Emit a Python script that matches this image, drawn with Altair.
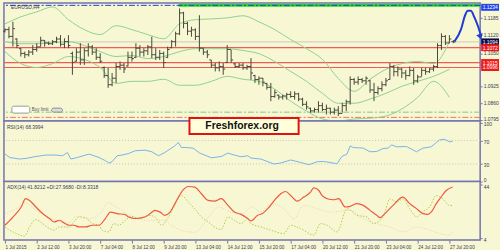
import altair as alt
import pandas as pd

# ---------------- data ----------------
bar_open = [1.1135, 1.1141, 1.1115, 1.1105, 1.1068, 1.1050, 1.1045, 1.1055, 1.1065, 1.1075,
            1.1100, 1.1090, 1.1087, 1.1095, 1.1105, 1.1085, 1.1095, 1.1050, 1.1020, 1.1055,
            1.1025, 1.1060, 1.1075, 1.1055, 1.1035, 1.0995, 1.0965, 1.0930, 1.0955, 1.1000,
            1.1005, 1.1002, 1.1035, 1.1035, 1.1070, 1.1055, 1.1060, 1.1075, 1.1045, 1.1035,
            1.1050, 1.1035, 1.1072, 1.1095, 1.1125, 1.1205, 1.1165, 1.1135, 1.1140, 1.1115,
            1.1070, 1.1055, 1.1025, 1.1005, 1.0995, 1.1000, 1.1015, 1.1065, 1.1010, 1.1000,
            1.1005, 1.0995, 1.1000, 1.0965, 1.0950, 1.0955, 1.0935, 1.0920, 1.0885, 1.0890,
            1.0883, 1.0887, 1.0893, 1.0885, 1.0895, 1.0875, 1.0855, 1.0840, 1.0830, 1.0835,
            1.0850, 1.0835, 1.0840, 1.0825, 1.0833, 1.0820, 1.0850, 1.0865, 1.0950, 1.0940,
            1.0950, 1.0945, 1.0945, 1.0910, 1.0900, 1.0915, 1.0930, 1.0950, 1.1000, 1.0980,
            1.0990, 1.0975, 1.0965, 1.0985, 1.0945, 1.0960, 1.0985, 1.0980, 1.0990, 1.1000,
            1.1080, 1.1115, 1.1090, 1.1095]
bar_high = [1.1146, 1.1152, 1.1171, 1.1108, 1.1070, 1.1057, 1.1063, 1.1082, 1.1089, 1.1114,
            1.1101, 1.1095, 1.1101, 1.1114, 1.1120, 1.1108, 1.1120, 1.1057, 1.1070, 1.1089,
            1.1070, 1.1089, 1.1082, 1.1070, 1.1051, 1.1000, 1.0994, 1.0975, 1.1013, 1.1019,
            1.1013, 1.1057, 1.1057, 1.1089, 1.1082, 1.1070, 1.1082, 1.1114, 1.1070, 1.1063,
            1.1057, 1.1076, 1.1101, 1.1133, 1.1222, 1.1209, 1.1171, 1.1152, 1.1146, 1.1196,
            1.1070, 1.1063, 1.1025, 1.1013, 1.1019, 1.1013, 1.1082, 1.1063, 1.1013, 1.1013,
            1.1013, 1.1006, 1.1032, 1.0968, 1.0962, 1.0956, 1.0937, 1.0937, 1.0911, 1.0892,
            1.0892, 1.0899, 1.0905, 1.0905, 1.0899, 1.0880, 1.0867, 1.0842, 1.0842, 1.0867,
            1.0861, 1.0854, 1.0842, 1.0842, 1.0848, 1.0861, 1.0873, 1.0962, 1.0956, 1.0962,
            1.0956, 1.0962, 1.0949, 1.0937, 1.0924, 1.0943, 1.0956, 1.1013, 1.1006, 1.1000,
            1.0994, 1.0987, 1.1000, 1.0994, 1.0968, 1.0994, 1.0994, 1.0994, 1.1006, 1.1089,
            1.1127, 1.1120, 1.1120, 1.1101]
bar_low = [1.1130, 1.1108, 1.1076, 1.1070, 1.1038, 1.1032, 1.1038, 1.1044, 1.1057, 1.1076,
           1.1076, 1.1082, 1.1082, 1.1089, 1.1076, 1.1070, 1.1070, 1.0968, 1.1019, 1.1006,
           1.1006, 1.1038, 1.1044, 1.1025, 1.1013, 1.0956, 1.0918, 1.0924, 1.0937, 1.0987,
           1.0975, 1.1000, 1.1019, 1.1032, 1.1038, 1.1038, 1.1044, 1.1032, 1.1025, 1.1025,
           1.0994, 1.1032, 1.1070, 1.1076, 1.1120, 1.1146, 1.1120, 1.1114, 1.1101, 1.1057,
           1.1044, 1.1032, 1.0994, 1.0981, 1.0981, 1.0968, 1.1013, 1.1013, 1.0994, 1.0994,
           1.0987, 1.0987, 1.0949, 1.0937, 1.0930, 1.0924, 1.0911, 1.0867, 1.0880, 1.0873,
           1.0873, 1.0873, 1.0880, 1.0873, 1.0867, 1.0848, 1.0835, 1.0823, 1.0823, 1.0823,
           1.0829, 1.0816, 1.0816, 1.0816, 1.0810, 1.0823, 1.0829, 1.0854, 1.0930, 1.0930,
           1.0937, 1.0930, 1.0899, 1.0867, 1.0892, 1.0905, 1.0924, 1.0949, 1.0962, 1.0962,
           1.0956, 1.0949, 1.0962, 1.0930, 1.0937, 1.0962, 1.0968, 1.0975, 1.0981, 1.0994,
           1.1063, 1.1082, 1.1089, 1.1089]
bar_close = [1.1141, 1.1115, 1.1145, 1.1080, 1.1050, 1.1045, 1.1055, 1.1065, 1.1075, 1.1100,
             1.1090, 1.1087, 1.1095, 1.1105, 1.1085, 1.1095, 1.1080, 1.1015, 1.1055, 1.1025,
             1.1060, 1.1075, 1.1055, 1.1035, 1.1020, 1.0965, 1.0930, 1.0955, 1.1000, 1.1005,
             1.0990, 1.1035, 1.1030, 1.1070, 1.1055, 1.1060, 1.1075, 1.1045, 1.1035, 1.1050,
             1.1015, 1.1065, 1.1095, 1.1125, 1.1205, 1.1165, 1.1135, 1.1140, 1.1115, 1.1070,
             1.1055, 1.1045, 1.1005, 1.0995, 1.1000, 1.0990, 1.1065, 1.1025, 1.1000, 1.1005,
             1.0995, 1.1000, 1.0975, 1.0950, 1.0955, 1.0940, 1.0920, 1.0885, 1.0900, 1.0883,
             1.0887, 1.0893, 1.0885, 1.0895, 1.0875, 1.0855, 1.0845, 1.0830, 1.0835, 1.0850,
             1.0835, 1.0840, 1.0825, 1.0833, 1.0820, 1.0850, 1.0865, 1.0950, 1.0940, 1.0950,
             1.0945, 1.0955, 1.0910, 1.0900, 1.0915, 1.0930, 1.0945, 1.1000, 1.0980, 1.0990,
             1.0975, 1.0965, 1.0985, 1.0945, 1.0960, 1.0985, 1.0980, 1.0990, 1.1000, 1.1080,
             1.1115, 1.1090, 1.1105, 1.1094]

band_idx = [0, 4, 8, 12, 16, 20, 24, 28, 32, 36, 40, 44, 48, 52, 56, 60, 64, 68, 72, 76,
            80, 84, 88, 92, 96, 100, 104, 108, 112]
band_upper = [1.1163, 1.1190, 1.1209, 1.1228, 1.1179, 1.1141, 1.1122, 1.1156, 1.1141, 1.1122,
              1.1106, 1.1163, 1.1179, 1.1182, 1.1186, 1.1194, 1.1171, 1.1141, 1.1103, 1.1068,
              1.1027, 1.0954, 1.0905, 1.0951, 1.0989, 1.1011, 1.1019, 1.1011, 1.1095]
band_mid = [1.1095, 1.1087, 1.1087, 1.1091, 1.1095, 1.1080, 1.1057, 1.1038, 1.1042, 1.1030,
            1.1038, 1.1057, 1.1068, 1.1068, 1.1068, 1.1061, 1.1049, 1.1019, 1.0981, 1.0943,
            1.0897, 1.0859, 1.0859, 1.0875, 1.0897, 1.0924, 1.0943, 1.0962, 1.0989]
band_lower = [1.1057, 1.1011, 1.0996, 1.1011, 1.1038, 1.1027, 1.0996, 1.0935, 1.0943, 1.0943,
              1.0951, 1.0928, 1.0928, 1.0943, 1.0962, 1.0951, 1.0943, 1.0913, 1.0867, 1.0829,
              1.0799, 1.0791, 1.0799, 1.0802, 1.0810, 1.0837, 1.0882, 1.0943, 1.0882]

proj_idx = [113.25, 114.9, 116.0, 116.6, 117.4, 118.25, 119.25, 119.8]
proj_price = [1.1095, 1.1141, 1.1198, 1.1213, 1.1213, 1.1190, 1.1152, 1.1125]

rsi_idx = [0, 1.2, 3.7, 5.3, 7.8, 10.3, 12.8, 14.5, 15.75, 16.6, 18.25, 21.2, 23.7, 25.3, 26.2,
           27, 28.25, 29.5, 31.2, 32.8, 35.3, 37, 38.7, 40.3, 42.8, 43.7, 44.5, 45.75, 47.4,
           49.1, 52, 54.5, 56.2, 57.8, 59.5, 61.2, 62, 64.5, 67.8, 69.5, 72, 74.5, 76.6, 78.7,
           80.3, 83.7, 84.9, 86.2, 87, 87.8, 90.3, 92, 93.7, 95.3, 96.6, 97.4, 98.7, 101.2,
           103.7, 105.3, 107.4, 108.7, 109.5, 110.75, 112, 112.8]
rsi_val = [46.8, 41.0, 38.3, 39.4, 42.7, 45.1, 45.1, 43.9, 49.5, 38.3, 41.0, 46.8, 41.0, 35.5, 31.6,
           33.8, 43.9, 45.1, 47.8, 52.4, 53.5, 50.7, 43.9, 49.5, 60.8, 66.4, 57.9, 57.9, 56.9,
           48.5, 40.5, 42.7, 48.5, 45.1, 42.2, 43.9, 40.0, 38.3, 29.9, 31.6, 36.7, 32.6, 28.7, 33.8,
           34.3, 30.4, 42.7, 46.8, 60.8, 57.9, 56.9, 50.7, 51.2, 56.3, 56.9, 62.5, 59.1, 59.6,
           50.7, 56.9, 59.1, 66.4, 70.9, 72.1, 67.6, 68.4]

adx_idx = [0, 2, 4.1, 5.2, 6.2, 7.8, 9.5, 11.2, 12.4, 13.7, 14.9, 16.2, 17.4, 18.7, 20.3, 22, 23.7,
           25.3, 26.6, 28.25, 30.3, 31.2, 32.8, 35.3, 36.6, 37.8, 39.1, 40.3, 41.6, 43.25, 44.9,
           46.2, 47.8, 49.5, 51.2, 52.8, 54.5, 56.2, 57.8, 59.5, 61.2, 62, 63.7, 64.9, 66.6, 68.25,
           69.5, 70.75, 72, 73.7, 75.3, 77, 77.8, 79.1, 79.9, 81.2, 82.8, 84.1, 85.75, 87, 88.7,
           90.3, 92, 93.7, 94.5, 95.75, 97.8, 100.3, 102, 103.7, 105.3, 106.6, 107.4, 108.7,
           109.9, 111.2, 112.8]
adx_val = [13.3, 19.4, 26.9, 33.1, 31.8, 26.9, 22.0, 18.3, 15.7, 17.0, 15.0, 13.3, 13.3, 12.0, 12.0,
           13.3, 13.3, 18.3, 23.1, 22.0, 21.2, 19.4, 18.3, 19.4, 22.0, 24.4, 23.1, 20.7, 23.1, 31.8,
           39.7, 42.2, 41.7, 36.8, 31.8, 31.3, 33.1, 28.1, 23.1, 21.4, 18.3, 16.5, 20.7, 22.0, 26.9,
           33.1, 36.8, 38.5, 35.5, 31.3, 34.3, 38.0, 41.2, 39.2, 35.5, 33.1, 32.3, 33.1, 26.9, 27.4,
           29.4, 28.1, 24.4, 20.7, 19.0, 22.0, 28.1, 34.3, 29.4, 25.7, 22.0, 21.4, 23.1, 29.4, 34.3,
           39.2, 41.8]

pdi_idx = [0, 1.2, 3.25, 4.9, 6.2, 7.8, 9.5, 11.2, 12.4, 13.7, 16.2, 17.4, 18.7, 20.3, 22, 23.7,
           24.5, 26.2, 27.4, 28.7, 30.3, 32, 33.7, 36.2, 37.8, 39.5, 41.2, 42.8, 44.5, 46.2, 47.8,
           49.5, 51.2, 52.8, 54.5, 56.2, 57.8, 59.5, 61.2, 62, 64.5, 67, 70.3, 72, 74.5, 77.8, 79.5,
           81.2, 83.7, 86.2, 88.7, 91.2, 92.8, 95.3, 97, 98.7, 100.3, 102, 103.7, 105.3, 107,
           108.7, 110.3, 112, 112.8]
pdi_val = [12.0, 9.6, 6.6, 5.1, 12.0, 17.5, 14.5, 10.8, 9.6, 12.0, 12.0, 15.8, 19.5, 19.0, 14.5, 13.3,
           9.6, 8.3, 14.5, 13.3, 17.0, 19.9, 18.2, 20.7, 19.5, 13.3, 19.5, 28.1, 35.5, 30.6, 25.6,
           19.5, 15.8, 12.0, 10.1, 19.5, 17.0, 14.5, 18.2, 14.5, 12.0, 9.6, 7.1, 13.3, 10.8, 5.9, 14.5,
           13.3, 8.3, 25.6, 20.7, 19.5, 14.5, 19.5, 33.0, 30.6, 33.0, 25.6, 19.5, 23.2, 26.9,
           35.5, 33.0, 28.1, 28.0]

mdi_idx = [0, 3, 5, 8, 12, 16, 18, 21, 24, 26, 28, 32, 36, 40, 42, 45, 48, 50, 52, 54, 56, 60,
           62, 64.5, 67, 70.3, 72.8, 75.3, 78.7, 82, 87, 90.3, 93.7, 97, 100.3, 103.7, 107, 109.5,
           112, 112.8]
mdi_val = [22, 26, 30, 24, 18, 15, 20, 18, 22, 30, 27, 20, 17, 17, 13, 9, 8, 14, 22, 27, 24, 22,
           26.9, 23.2, 29.3, 25.6, 18.2, 28.1, 25.6, 23.2, 24.4, 18.2, 14.5, 12.0, 8.3, 12.0, 9.6,
           7.1, 5.9, 8.3]

time_ticks = [0, 8, 16, 24, 32, 40, 48, 56, 64, 72, 80, 88, 96, 104, 112]
time_labels = ["1 Jul 2015", "2 Jul 12:00", "3 Jul 20:00", "7 Jul 04:00", "8 Jul 12:00",
               "9 Jul 20:00", "13 Jul 04:00", "14 Jul 12:00", "15 Jul 20:00", "17 Jul 04:00",
               "20 Jul 12:00", "21 Jul 20:00", "23 Jul 04:00", "24 Jul 12:00", "27 Jul 20:00"]

price_ticks = [1.1185, 1.1120, 1.1050, 1.0925, 1.0860, 1.0795]
rsi_ticks = [100, 70, 30, 0]
adx_ticks = [44, 4]
level_top = 1.1234        # blue dash-dot level
level_current = 1.1094    # current price (grey)
levels_red = [1.1072, 1.1015, 1.0996]
level_green_dd = 1.0825
level_red_dd = 1.0805
box_prices = [1.1094, 1.1072, 1.1015, 1.0996]
box_texts = ["1.1094", "1.1072", "1.1015", "1.0996"]
box_fills = ["#0A0A4A", "#F01818", "#F01818", "#F01818"]

# ---------------- styling ----------------
W = 480
H1, H2, H3 = 119, 61, 59
BG = "#F7F7D3"
FRAME = "#7373B0"
FONT = "Liberation Sans"
BAR = "#46493A"
GREEN = "#8FD08F"
RED = "#F05A5A"
BLUE = "#1E3CD6"
TXT = "#3A3A55"

xs = alt.Scale(domain=[-0.25, 119.75], nice=False, zero=False)
ps = alt.Scale(domain=[1.0791, 1.1243], nice=False, zero=False)
rs = alt.Scale(domain=[0, 103], nice=False, zero=False)
ascale = alt.Scale(domain=[2.2, 45.9], nice=False, zero=False)

X = alt.X("i:Q", scale=xs, axis=None, title=None)


def yax(values, fmt=None, **extra):
    kw = dict(orient="right", values=values, labelFont=FONT, labelFontSize=5, labelColor=TXT,
              tickColor=FRAME, tickSize=2, labelPadding=1, domain=False, grid=False,
              title=None, labelOverlap=False)
    if fmt:
        kw["format"] = fmt
    kw.update(extra)
    return alt.Axis(**kw)


price_axis = yax(price_ticks, ".4f", labelOffset=-1)
rsi_axis = yax(rsi_ticks, labelFlush=True, labelOffset=1)
adx_axis = yax(adx_ticks, labelOffset=2)


def YP(field):
    return alt.Y(f"{field}:Q", scale=ps, axis=price_axis, title=None)


def YR(field):
    return alt.Y(f"{field}:Q", scale=rs, axis=rsi_axis, title=None)


def YA(field):
    return alt.Y(f"{field}:Q", scale=ascale, axis=adx_axis, title=None)


bars = pd.DataFrame({"i": list(range(len(bar_open))), "o": bar_open, "h": bar_high,
                     "l": bar_low, "c": bar_close})
bands = pd.DataFrame({"i": band_idx, "u": band_upper, "m": band_mid, "lo": band_lower})
proj = pd.DataFrame({"i": proj_idx, "p": proj_price})
one = pd.DataFrame({"a": [0]})

hl = alt.Chart(bars).mark_rule(color=BAR, strokeWidth=1).encode(X, y=YP("l"), y2="h:Q")
ot = alt.Chart(bars).mark_tick(orient="horizontal", size=2, thickness=1, xOffset=-1,
                               color=BAR, opacity=1).encode(X, y=YP("o"))
ct = alt.Chart(bars).mark_tick(orient="horizontal", size=2, thickness=1, xOffset=1,
                               color=BAR, opacity=1).encode(X, y=YP("c"))


def band_line(field):
    return alt.Chart(bands).mark_line(color=GREEN, strokeWidth=1, interpolate="monotone").encode(
        X, y=YP(field))


def hrule(value, **kw):
    return alt.Chart(pd.DataFrame({"p": [value]})).mark_rule(**kw).encode(y=YP("p"))


red_rules = alt.Chart(pd.DataFrame({"p": levels_red})).mark_rule(
    color=RED, strokeWidth=1.2).encode(y=YP("p"))
cur_rule = hrule(level_current, color="#C9C9C0", strokeWidth=1)
green_seg = alt.Chart(pd.DataFrame({"i": [43.75], "i2": [119.75], "p": [level_top]})).mark_rule(
    color="#2AD82A", strokeWidth=3).encode(X, x2="i2:Q", y=YP("p"))
top_rule = hrule(level_top, color=BLUE, strokeWidth=1, strokeDash=[6, 2, 2, 2])
gdd = hrule(level_green_dd, color="#7CCB7C", strokeWidth=1, strokeDash=[6, 2, 2, 2])
rdd = hrule(level_red_dd, color="#EE7070", strokeWidth=1, strokeDash=[6, 2, 2, 2])

proj_line = alt.Chart(proj).mark_line(color=BLUE, strokeWidth=2,
                                      interpolate="monotone").encode(X, y=YP("p"))
arrow = alt.Chart(proj.tail(1)).mark_point(shape="triangle-down", filled=True, size=45,
                                          color=BLUE, opacity=1, yOffset=3,
                                          angle=340).encode(X, y=YP("p"))

boxes_df = pd.DataFrame({"p": box_prices, "t": box_texts, "f": box_fills})
boxes = alt.Chart(boxes_df).mark_tick(orient="horizontal", size=18, thickness=7,
                                      opacity=1).encode(
    x=alt.value(W + 10), y=YP("p"), color=alt.Color("f:N", scale=None))
box_txt = alt.Chart(boxes_df).mark_text(align="left", baseline="middle", font=FONT, fontSize=5,
                                        color="white").encode(
    x=alt.value(W + 2.5), y=YP("p"), text="t:N")
top_df = pd.DataFrame({"p": [level_top], "t": ["1.1234"]})
top_box = alt.Chart(top_df).mark_tick(orient="horizontal", size=18, thickness=7, opacity=1,
                                      color="#2446E8", yOffset=2).encode(
    x=alt.value(W + 10), y=YP("p"))
top_txt = alt.Chart(top_df).mark_text(align="left", baseline="middle", font=FONT, fontSize=5,
                                      color="white", yOffset=2).encode(
    x=alt.value(W + 2.5), y=YP("p"), text="t:N")

sym_txt = alt.Chart(one).mark_text(align="left", baseline="middle", font=FONT, fontSize=5,
                                   color=TXT).encode(x=alt.value(7), y=alt.value(4),
                                                     text=alt.value("EURUSD,H4"))
buy_box = alt.Chart(one).mark_rect(fill="white", stroke="#9A9A9A", strokeWidth=1,
                                   cornerRadius=2).encode(
    x=alt.value(8), x2=alt.value(26), y=alt.value(104), y2=alt.value(111))
buy_txt = alt.Chart(one).mark_text(align="left", baseline="middle", font=FONT, fontSize=4.5,
                                   color="#555566").encode(x=alt.value(28), y=alt.value(108),
                                                          text=alt.value("Buy limit"))
buy_box2 = alt.Chart(one).mark_rect(fill="#DCDCDC", stroke="#8A8A8A", strokeWidth=1,
                                    cornerRadius=2).encode(
    x=alt.value(48), x2=alt.value(59), y=alt.value(106), y2=alt.value(110))

main = alt.layer(
    cur_rule, red_rules, gdd, rdd, green_seg, top_rule,
    band_line("u"), band_line("m"), band_line("lo"),
    hl, ot, ct, proj_line, arrow,
    boxes, box_txt, top_box, top_txt, sym_txt, buy_box, buy_txt, buy_box2,
).properties(width=W, height=H1)

# ---------------- RSI ----------------
rsi_df = pd.DataFrame({"i": rsi_idx, "v": rsi_val})
rsi_line = alt.Chart(rsi_df).mark_line(color="#74B4EE", strokeWidth=1).encode(X, y=YR("v"))
rsi_lv = alt.Chart(pd.DataFrame({"v": [70, 30]})).mark_rule(
    color="#C4C4B4", strokeDash=[1, 2], strokeWidth=1).encode(y=YR("v"))
rsi_txt = alt.Chart(one).mark_text(align="left", baseline="middle", font=FONT, fontSize=5,
                                   color=TXT).encode(x=alt.value(3), y=alt.value(6),
                                                     text=alt.value("RSI(14) 68.3994"))
wm_box = alt.Chart(one).mark_rect(fill="#FFFFDA", stroke="#E31212", strokeWidth=2).encode(
    x=alt.value(187), x2=alt.value(297), y=alt.value(-3), y2=alt.value(13))
wm_txt = alt.Chart(one).mark_text(align="center", baseline="middle", font=FONT, fontSize=10.5,
                                  fontWeight="bold", color="#111111").encode(
    x=alt.value(240), y=alt.value(5), text=alt.value("Freshforex.org"))
rsi = alt.layer(rsi_lv, rsi_line, rsi_txt, wm_box, wm_txt).properties(width=W, height=H2)

# ---------------- ADX ----------------
adx_df = pd.DataFrame({"i": adx_idx, "v": adx_val})
pdi_df = pd.DataFrame({"i": pdi_idx, "v": pdi_val})
mdi_df = pd.DataFrame({"i": mdi_idx, "v": mdi_val})
label_expr = "[" + ",".join(f"'{s}'" for s in time_labels) + "][round(datum.value/8)]"
x_axis = alt.Axis(orient="bottom", values=time_ticks, labelExpr=label_expr, labelFont=FONT,
                  labelFontSize=4.6, labelColor=TXT, labelAlign="left", labelPadding=1,
                  tickColor=FRAME, tickSize=3, domain=False, grid=False, labelFlush=False,
                  labelOverlap=False, title=None)
XA = alt.X("i:Q", scale=xs, axis=x_axis, title=None)
mdi_line = alt.Chart(mdi_df).mark_line(color="#F2CFA6", strokeWidth=1, strokeDash=[1, 1.5],
                                      interpolate="monotone").encode(XA, y=YA("v"))
pdi_line = alt.Chart(pdi_df).mark_line(color="#B2CC4E", strokeWidth=1, strokeDash=[1.5, 1.5],
                                      interpolate="monotone").encode(XA, y=YA("v"))
adx_line = alt.Chart(adx_df).mark_line(color="#F0583F", strokeWidth=1.2,
                                      interpolate="monotone").encode(XA, y=YA("v"))
adx_txt = alt.Chart(one).mark_text(align="left", baseline="middle", font=FONT, fontSize=5,
                                   color=TXT).encode(
    x=alt.value(3), y=alt.value(5), text=alt.value("ADX(14) 41.8212 +DI:27.9680 -DI:8.3318"))
adx = alt.layer(mdi_line, pdi_line, adx_line, adx_txt).properties(width=W, height=H3)

chart = alt.vconcat(main, rsi, adx, spacing=0, bounds="flush").resolve_scale(
    x="independent", y="independent", color="independent"
).properties(
    padding={"left": 1, "top": 1, "right": 0, "bottom": 2}, background=BG
).configure_view(fill=BG, stroke=FRAME, strokeWidth=1.5)

chart.save("out.html", embed_options={"renderer": "svg", "actions": False})
